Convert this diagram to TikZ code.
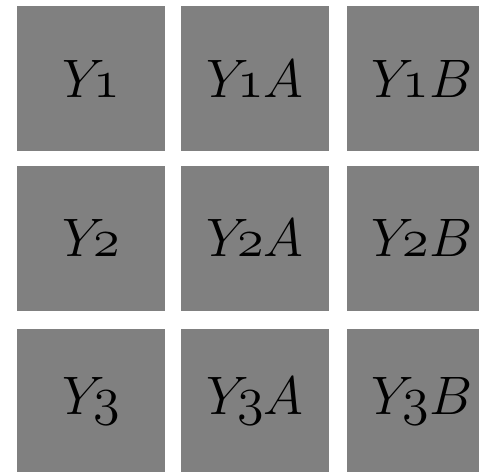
\documentclass[tikz,border=0pt]{standalone}
\usepackage{graphicx}
\newcommand{\celltext}[1]{\scalebox{2.178}{\fontencoding{OML}\fontfamily{cmm}\fontseries{m}\fontshape{it}\selectfont #1}}
\tikzset{
  cell/.style={fill=gray, draw=none, minimum width=148pt, minimum height=145pt, inner sep=0pt, outer sep=0pt, anchor=north west,
    font=\Huge}
}
\begin{document}
\begin{tikzpicture}[x=1pt,y=1pt]
\useasboundingbox (0,0) rectangle (479,-471);
\begin{scope}
\clip (0,0) rectangle (479,-471);
\node[cell] (a1) at (17,-6) {\celltext{Y1}};
\node[cell] (b1) at (181,-6) {\celltext{Y1A}};
\node[cell] (c1) at (346.7,-6) {\celltext{Y1B}};
\node[cell] (a2) at (17,-165.5) {\celltext{Y2}};
\node[cell] (b2) at (181,-165.5) {\celltext{Y2A}};
\node[cell] (c2) at (346.7,-165.5) {\celltext{Y2B}};
\node[cell] (a3) at (17,-328.7) {\celltext{Y3}};
\node[cell] (b3) at (181,-328.7) {\celltext{Y3A}};
\node[cell] (c3) at (346.7,-328.7) {\celltext{Y3B}};
\end{scope}
\end{tikzpicture}
\end{document}
